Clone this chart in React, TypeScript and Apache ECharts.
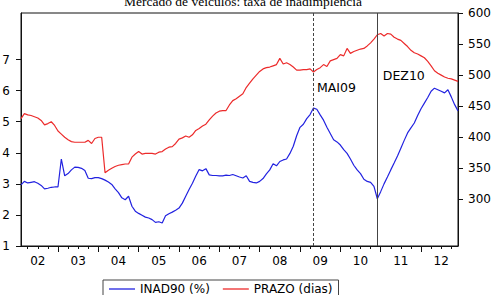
import React, { useEffect, useRef } from "react";
import * as echarts from "echarts";

const TITLE = "Mercado de veículos: taxa de inadimplência";

// Monthly categories: Feb 2002 .. Dec 2012
const CATEGORIES: string[] = [];
for (let y = 2002; y <= 2012; y++) {
  for (let m = 1; m <= 12; m++) {
    if (y === 2002 && m < 2) continue;
    CATEGORIES.push(`${y}-${String(m).padStart(2, "0")}`);
  }
}

const INAD90 = [
  2.97, 3.08, 3.03, 3.05, 3.07, 3.02, 2.95, 2.84, 2.86, 2.89, 2.9, 2.9, 3.8, 3.26, 3.33, 3.45, 3.54, 3.53, 3.5, 3.43,
  3.18, 3.17, 3.2, 3.2, 3.17, 3.12, 3.06, 2.98, 2.84, 2.72, 2.55, 2.49, 2.6, 2.28, 2.12, 2.05, 1.99, 1.93, 1.9, 1.85,
  1.76, 1.78, 1.74, 1.97, 2.04, 2.09, 2.15, 2.22, 2.38, 2.6, 2.82, 3.02, 3.25, 3.46, 3.42, 3.49, 3.29, 3.27, 3.27, 3.26,
  3.26, 3.28, 3.27, 3.3, 3.26, 3.22, 3.19, 3.26, 3.08, 3.05, 3.03, 3.08, 3.17, 3.32, 3.45, 3.65, 3.58, 3.72, 3.77, 3.8,
  3.98, 4.21, 4.55, 4.82, 4.92, 5.1, 5.23, 5.44, 5.4, 5.22, 5.05, 4.82, 4.62, 4.42, 4.35, 4.25, 4.1, 3.98, 3.8, 3.6,
  3.45, 3.33, 3.15, 3.08, 3.05, 2.92, 2.52, 2.75, 3.0, 3.22, 3.45, 3.67, 3.9, 4.15, 4.4, 4.64, 4.8, 4.96, 5.2, 5.42,
  5.6, 5.78, 5.98, 6.08, 6.03, 5.98, 5.93, 6.03, 5.8, 5.55, 5.35,
];

const PRAZO = [
  430, 438, 436, 435, 433, 431, 427, 420, 422, 425, 419, 410, 405, 400, 396, 393, 392, 392, 392, 392,
  395, 390, 398, 400, 400, 343, 347, 350, 353, 355, 356, 357, 357, 368, 373, 377, 373, 374, 374, 374,
  373, 376, 377, 381, 384, 385, 390, 397, 399, 402, 400, 404, 411, 414, 418, 421, 428, 434, 439, 442,
  443, 443, 452, 459, 462, 466, 470, 480, 487, 494, 500, 506, 510, 512, 513, 515, 517, 527, 518, 520,
  517, 513, 508, 508, 509, 509, 510, 505, 509, 512, 517, 514, 523, 525, 527, 533, 531, 543, 535, 538,
  540, 542, 543, 547, 552, 558, 565, 567, 563, 567, 566, 561, 558, 556, 551, 546, 540, 536, 534, 531,
  528, 522, 515, 507, 503, 500, 497, 495, 494, 492, 490,
];

const LEFT_TICKS = [1, 2, 3, 4, 5, 6, 7];
const RIGHT_TICKS = [300, 350, 400, 450, 500, 550, 600];
const LEFT_MIN = 1;
const LEFT_MAX = 8.5;
const RIGHT_MIN = 225;
const RIGHT_MAX = 600;

const EVENTS = [
  { month: "2009-05", label: "MAI09", labelY: 6.11, dashed: true, dist: 3 },
  { month: "2010-12", label: "DEZ10", labelY: 6.49, dashed: false, dist: 5 },
];

const SERIES_NAMES = ["INAD90 (%)", "PRAZO (dias)"];
const BLUE = "#2222e0";
const RED = "#ec2b2b";
const FONT = "DejaVu Sans";

export default function App() {
  const ref = useRef<HTMLDivElement>(null);
  useEffect(() => {
    if (!ref.current) return;
    const chart = echarts.init(ref.current, null, { renderer: "svg" });
    const monthOf = (v: string) => v.slice(5, 7);
    const baseX = {
      type: "category",
      data: CATEGORIES,
      boundaryGap: false,
      position: "bottom",
    };
    chart.setOption({
      animation: false,
      grid: {
        left: 21,
        right: 38,
        top: 13,
        bottom: 49,
        containLabel: false,
        outerBoundsMode: "none",
        show: true,
        borderColor: "#111",
        borderWidth: 1,
      },
      graphic: [
        {
          type: "text",
          x: 243,
          y: 8,
          style: {
            text: TITLE,
            fontSize: 13.5,
            fontFamily: "Liberation Serif",
            align: "center",
            verticalAlign: "bottom",
            fill: "#000",
          },
        },
      ],
      legend: {
        left: 103,
        top: 280,
        padding: [3, 6, 8, 6],
        borderColor: "#444",
        borderWidth: 1,
        icon: "rect",
        itemWidth: 26,
        itemHeight: 1.3,
        itemGap: 13,
        data: SERIES_NAMES,
        textStyle: { fontFamily: FONT, fontSize: 12, color: "#000", width: 92 },
      },
      xAxis: [
        {
          ...baseX,
          axisLine: { show: true, lineStyle: { color: "#111", width: 1 } },
          axisTick: {
            show: true,
            length: 6,
            interval: (i: number, v: string) => monthOf(v) === "01",
            lineStyle: { color: "#111" },
          },
          axisLabel: {
            show: true,
            interval: (i: number, v: string) => monthOf(v) === "07",
            formatter: (v: string) => v.slice(2, 4),
            fontFamily: FONT,
            fontSize: 12,
            color: "#000",
            margin: 9,
          },
          splitLine: { show: false },
        },
        {
          ...baseX,
          axisLine: { show: false },
          axisTick: {
            show: true,
            length: 3,
            interval: (i: number, v: string) => ["04", "07", "10"].includes(monthOf(v)),
            lineStyle: { color: "#111" },
          },
          axisLabel: { show: false },
          splitLine: { show: false },
        },
      ],
      yAxis: [
        {
          type: "value",
          position: "left",
          min: LEFT_MIN,
          max: LEFT_MAX,
          axisLine: { show: true, lineStyle: { color: "#111" } },
          axisTick: { show: true, length: 5, customValues: LEFT_TICKS, lineStyle: { color: "#111" } },
          axisLabel: {
            customValues: LEFT_TICKS,
            fontFamily: FONT,
            fontSize: 12,
            color: "#000",
            margin: 11,
          },
          splitLine: { show: false },
        },
        {
          type: "value",
          position: "right",
          min: RIGHT_MIN,
          max: RIGHT_MAX,
          axisLine: { show: true, lineStyle: { color: "#111" } },
          axisTick: { show: true, length: 5, customValues: RIGHT_TICKS, lineStyle: { color: "#111" } },
          axisLabel: {
            customValues: RIGHT_TICKS,
            fontFamily: FONT,
            fontSize: 12,
            color: "#000",
            margin: 10,
          },
          splitLine: { show: false },
        },
      ],
      series: [
        {
          name: SERIES_NAMES[0],
          type: "line",
          xAxisIndex: 0,
          yAxisIndex: 0,
          data: INAD90,
          symbol: "none",
          lineStyle: { color: BLUE, width: 1.2 },
          itemStyle: { color: BLUE },
          markLine: {
            silent: true,
            symbol: ["none", "none"],
            label: { show: false },
            data: EVENTS.map((e) => ({
              xAxis: e.month,
              lineStyle: { type: e.dashed ? [3, 2] : "solid", color: "#444", width: 1 },
            })),
          },
          markPoint: {
            silent: true,
            symbol: "circle",
            symbolSize: 1,
            itemStyle: { color: "rgba(0,0,0,0)" },
            data: EVENTS.map((e) => ({
              name: e.label,
              coord: [e.month, e.labelY],
              label: {
                show: true,
                position: "right",
                distance: e.dist,
                formatter: e.label,
                fontFamily: FONT,
                fontSize: 12.5,
                color: "#000",
              },
            })),
          },
        },
        {
          name: SERIES_NAMES[1],
          type: "line",
          xAxisIndex: 0,
          yAxisIndex: 1,
          data: PRAZO,
          symbol: "none",
          lineStyle: { color: RED, width: 1.2 },
          itemStyle: { color: RED },
        },
      ],
    });
    return () => chart.dispose();
  }, []);
  return (
    <div
      ref={ref}
      style={{ position: "fixed", left: 0, top: 0, width: 496, height: 295, background: "#fff" }}
    />
  );
}
